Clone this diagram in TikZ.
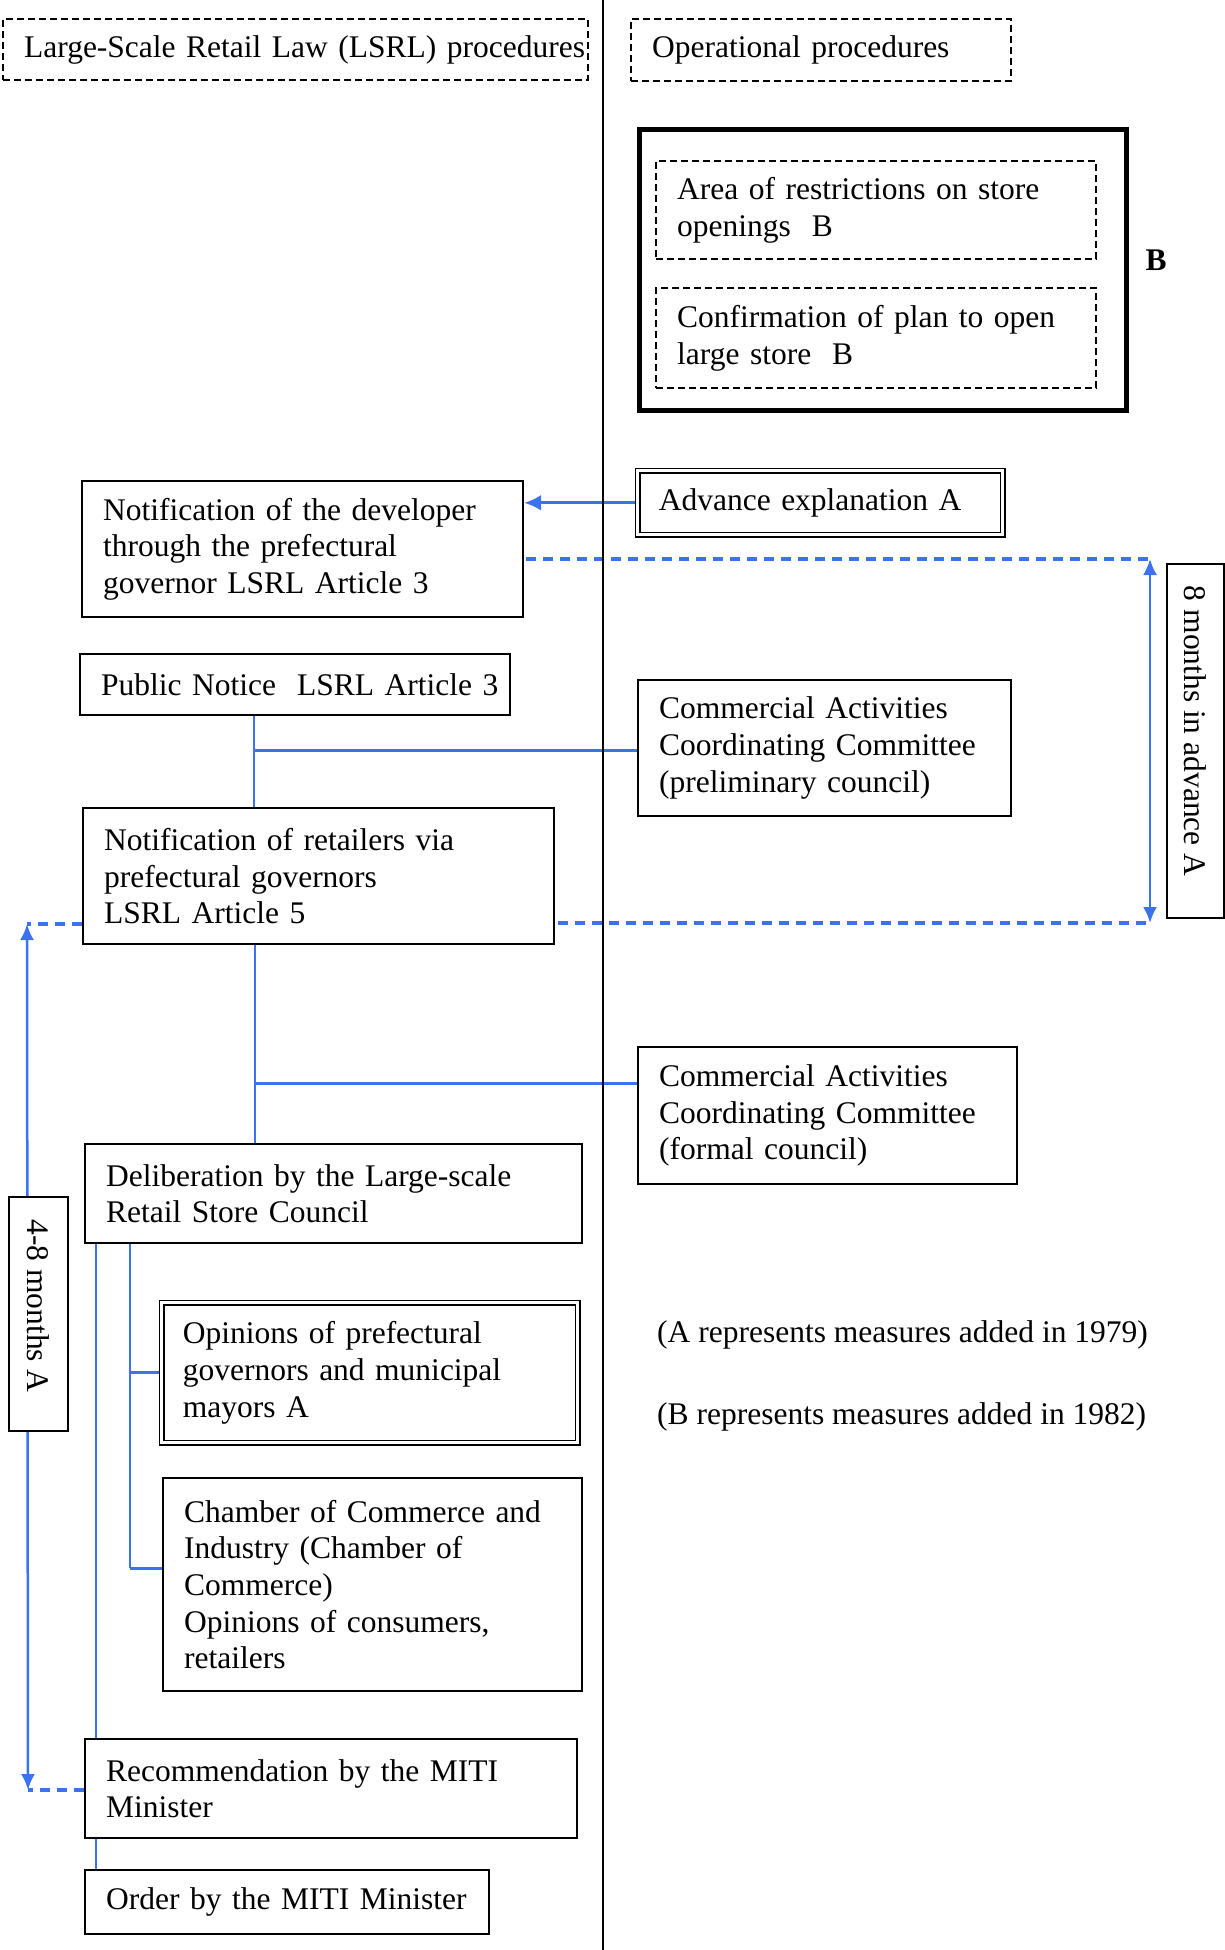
\documentclass[tikz,border=0pt]{standalone}
\usepackage{fontspec}
\setmainfont{Liberation Serif}
\usetikzlibrary{arrows.meta,calc}
\pgfdeclarelayer{background}
\pgfsetlayers{background,main}
\definecolor{lnblue}{RGB}{59,114,240}
\newcommand{\fs}{\fontsize{31.5pt}{36.7pt}\selectfont}
\tikzset{
  every node/.style={font=\fs},
  box/.style={draw, line width=2.2pt, fill=white, anchor=north west, align=left, inner xsep=21pt, inner ysep=0pt},
  dbox/.style={box, dash pattern=on 7pt off 4pt},
  twobox/.style={box, double, double distance=3pt, line width=1.6pt},
  plain/.style={draw, line width=2.2pt, fill=white, anchor=north west, inner sep=0pt},
  conn/.style={draw=lnblue, line width=2.5pt},
  hconn/.style={draw=lnblue, line width=3pt},
  dconn/.style={draw=lnblue, line width=3.5pt, dash pattern=on 10pt off 7pt},
  tip/.style={-{Latex[length=17pt,width=16pt]}},
  tips/.style={{Latex[length=16pt,width=14pt]}-{Latex[length=16pt,width=14pt]}}
}
\begin{document}
\begin{tikzpicture}[x=1pt,y=-1pt]
\useasboundingbox (0,0) rectangle (1225,1950);
% divider
\coordinate (dtop) at (603,0);
\coordinate (dbot) at (603,1950);
\draw[line width=1.5pt] (dtop) -- (dbot);
% headers
\node[dbox, text width=543pt, minimum height=61pt] (h1) at (2,18) {\mbox{Large-Scale Retail Law (LSRL) procedures}};
\node[dbox, text width=338pt, minimum height=62pt] (h2) at (630,18) {\mbox{Operational procedures}};
% B group
\node[box, line width=5pt, minimum width=487pt, minimum height=281pt] (thick) at (637,127) {};
\node[dbox, text width=398pt, minimum height=98pt] (in1) at (655,160) {\mbox{Area of restrictions on store}\\\mbox{openings~~B}};
\node[dbox, text width=398pt, minimum height=100pt] (in2) at (655,287) {\mbox{Confirmation of plan to open}\\\mbox{large store~~B}};
\node[anchor=center] (bl) at (1156,260) {\textbf{B}};
% right column
\node[twobox, text width=323pt, minimum height=64pt] (adv) at (637,470) {\mbox{Advance explanation A}};
\node[box, text width=331pt, minimum height=136pt] (cpre) at (637,679) {\mbox{Commercial Activities}\\\mbox{Coordinating Committee}\\\mbox{(preliminary council)}};
\node[box, text width=337pt, minimum height=137pt] (cfor) at (637,1046) {\mbox{Commercial Activities}\\\mbox{Coordinating Committee}\\\mbox{(formal council)}};
\node[anchor=west, inner sep=0pt] (na) at (657,1335) {(A represents measures added in 1979)};
\node[anchor=west, inner sep=0pt] (nb) at (657,1417) {(B represents measures added in 1982)};
% left column
\node[box, text width=399pt, minimum height=136pt] (dev) at (81,480) {\mbox{Notification of the developer}\\\mbox{through the prefectural}\\\mbox{governor LSRL Article 3}};
\node[box, text width=388pt, minimum height=61pt] (pub) at (79,653) {\mbox{Public Notice~~LSRL Article 3}};
\node[box, text width=429pt, minimum height=136pt] (ret) at (82,807) {\mbox{Notification of retailers via}\\\mbox{prefectural governors}\\\mbox{LSRL Article 5}};
\node[box, text width=455pt, minimum height=99pt] (del) at (84,1143) {\mbox{Deliberation by the Large-scale}\\\mbox{Retail Store Council}};
\node[twobox, text width=374pt, minimum height=140pt] (opi) at (161,1302) {\mbox{Opinions of prefectural}\\\mbox{governors and municipal}\\\mbox{mayors A}};
\node[box, text width=377pt, minimum height=213pt] (cha) at (162,1477) {\mbox{Chamber of Commerce and}\\\mbox{Industry (Chamber of}\\\mbox{Commerce)}\\\mbox{Opinions of consumers,}\\\mbox{retailers}};
\node[box, text width=450pt, minimum height=99pt] (rec) at (84,1738) {\mbox{Recommendation by the MITI}\\\mbox{Minister}};
\node[box, text width=362pt, minimum height=64pt] (ord) at (84,1869) {\mbox{Order by the MITI Minister}};
% duration boxes
\node[plain, minimum width=57pt, minimum height=354pt] (m8) at (1166,563) {};
\node[rotate=-90, inner sep=0pt] (m8t) at ([yshift=10pt]m8.center) {8 months in advance A};
\node[plain, minimum width=59pt, minimum height=234pt] (m48) at (8,1196) {};
\node[rotate=-90, inner sep=0pt] (m48t) at ([yshift=8pt]m48.center) {4-8 months A};
% connectors
\coordinate (t8) at (1150,559);
\coordinate (b8) at (1150,923);
\coordinate (t48) at (27,924);
\coordinate (b48) at (28,1790);
\coordinate (j1) at (254,750);
\coordinate (j2) at (255,1083);
\coordinate (k1) at (96,0);
\coordinate (k2) at (130,1568);
\begin{pgfonlayer}{background}
\draw[hconn, tip] (adv.west) -- (dev.east |- adv.west);
\draw[dconn] ([xshift=2pt]dev.east |- t8) -- (t8);
\draw[conn, tips] (t8) -- (b8);
\draw[dconn] ([xshift=3pt]ret.east |- b8) -- (b8);
\draw[dconn] (ret.west |- t48) -- (t48);
\draw[conn, tips] (t48) -- (b48);
\draw[dconn] (rec.west |- b48) -- (b48);
\draw[conn] (j1 |- pub.south) -- (j1 |- ret.north);
\draw[hconn] (j1) -- (cpre.west |- j1);
\draw[conn] (j2 |- ret.south) -- (j2 |- del.north);
\draw[hconn] (j2) -- (cfor.west |- j2);
\draw[conn] (k1 |- del.south) -- (k1 |- rec.north);
\draw[conn] (k1 |- rec.south) -- (k1 |- ord.north);
\draw[conn] (k2 |- del.south) -- (k2);
\draw[hconn] (k2 |- opi.west) -- (opi.west);
\draw[hconn] (k2) -- (cha.west |- k2);
\end{pgfonlayer}
\end{tikzpicture}
\end{document}
